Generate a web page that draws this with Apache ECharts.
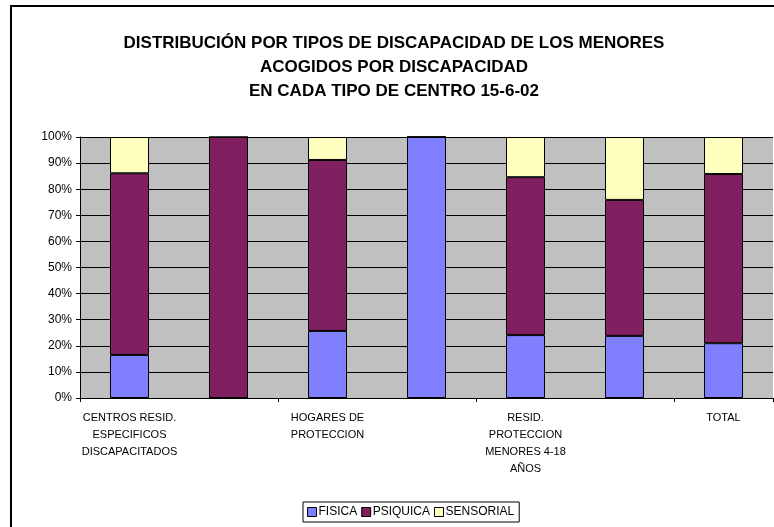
<!DOCTYPE html>
<html>
<head>
<meta charset="utf-8">
<script src="https://cdn.jsdelivr.net/npm/echarts@6/dist/echarts.min.js"></script>
<style>
  html, body { margin: 0; padding: 0; background: #fff; }
  #chart { width: 774px; height: 527px; }
</style>
</head>
<body>
<div id="chart"></div>
<script>
// categorias (las pares no llevan etiqueta en el original)
const categories = [
  'CENTROS RESID.\nESPECIFICOS\nDISCAPACITADOS',
  'CENTROS DE\nDIA',
  'HOGARES DE\nPROTECCION',
  'PISOS\nTUTELADOS',
  'RESID.\nPROTECCION\nMENORES 4-18\nAÑOS',
  'OTROS\nCENTROS',
  'TOTAL'
];
// porcentajes
const fisica    = [16.5, 0,   25.7, 100, 24.1, 23.8, 21.0];
const psiquica  = [69.6, 100, 65.5, 0,   60.5, 52.1, 64.8];
const sensorial = [13.9, 0,   8.8,  0,   15.4, 24.1, 14.2];
const yTicks = [0, 10, 20, 30, 40, 50, 60, 70, 80, 90, 100];

const chart = echarts.init(document.getElementById('chart'));

const fontFam = '"Liberation Sans", Arial, sans-serif';

const barSeries = (name, data, color) => ({
  name: name,
  type: 'bar',
  stack: 'total',
  barWidth: 39,
  data: data,
  itemStyle: { color: color, borderColor: '#000', borderWidth: 1 },
  emphasis: { disabled: true }
});

chart.setOption({
  animation: false,
  textStyle: { fontFamily: fontFam },
  title: {
    text: 'DISTRIBUCIÓN POR TIPOS DE DISCAPACIDAD DE LOS MENORES\nACOGIDOS POR DISCAPACIDAD\nEN CADA TIPO DE CENTRO 15-6-02',
    left: 389,
    top: 26,
    textAlign: 'center',
    textStyle: {
      fontFamily: fontFam,
      fontSize: 17,
      fontWeight: 'bold',
      color: '#000',
      lineHeight: 24
    }
  },
  graphic: [{
    type: 'rect',
    shape: { x: 11, y: 6, width: 770, height: 530 },
    style: { fill: 'none', stroke: '#000', lineWidth: 2 },
    silent: true
  }],
  legend: {
    left: 303,
    top: 502,
    data: ['FISICA', 'PSIQUICA', 'SENSORIAL'],
    itemWidth: 9,
    itemHeight: 9,
    itemGap: 4,
    padding: [4, 5, 4, 4],
    borderColor: '#000',
    borderWidth: 1,
    icon: 'rect',
    textStyle: { fontFamily: fontFam, fontSize: 12, color: '#000', padding: [0, 0, 0, -3] },
    itemStyle: { borderColor: '#000', borderWidth: 1 }
  },
  grid: {
    left: 80,
    right: 1,
    top: 137,
    bottom: 129,
    show: true,
    backgroundColor: '#C0C0C0',
    borderWidth: 0
  },
  xAxis: {
    type: 'category',
    data: categories,
    axisLine: { lineStyle: { color: '#000', width: 1 } },
    axisTick: { show: true, length: 4, lineStyle: { color: '#000' } },
    axisLabel: {
      interval: 1,
      margin: 11,
      fontSize: 11,
      lineHeight: 17,
      color: '#000',
      fontFamily: fontFam
    }
  },
  yAxis: {
    type: 'value',
    min: 0,
    max: 100,
    interval: 10,
    axisLine: { show: true, lineStyle: { color: '#000', width: 1 } },
    axisTick: { show: true, length: 4, lineStyle: { color: '#000' } },
    splitLine: { show: true, lineStyle: { color: '#000', width: 1 } },
    axisLabel: {
      margin: 8,
      fontSize: 12,
      color: '#000',
      fontFamily: fontFam,
      formatter: (v) => (yTicks.indexOf(v) >= 0 ? v + '%' : '')
    }
  },
  series: [
    barSeries('FISICA', fisica, '#8080FF'),
    barSeries('PSIQUICA', psiquica, '#802060'),
    barSeries('SENSORIAL', sensorial, '#FFFFC0')
  ]
});
</script>
</body>
</html>
